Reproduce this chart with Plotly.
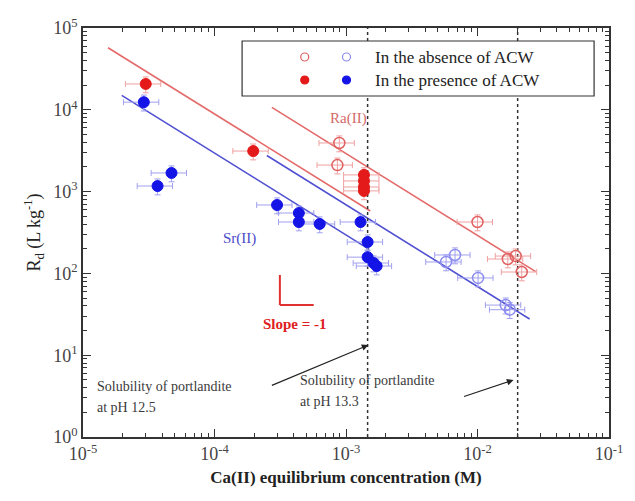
import plotly.graph_objects as go

# ---------------- data ----------------
ra_pres_x = [3.0e-5, 1.97e-4, 1.37e-3, 1.37e-3, 1.37e-3, 1.37e-3]
ra_pres_y = [20700, 3130, 1600, 1350, 1140, 1020]

ra_abs_x = [8.9e-4, 8.6e-4, 1.0e-2, 1.70e-2, 1.95e-2, 2.17e-2]
ra_abs_y = [3930, 2110, 425, 150, 163, 104]

sr_pres_x = [2.9e-5, 3.69e-5, 4.71e-5, 2.99e-4, 4.38e-4, 4.38e-4, 6.31e-4,
             1.29e-3, 1.46e-3, 1.46e-3, 1.62e-3, 1.71e-3]
sr_pres_y = [12400, 1170, 1690, 686, 547, 425, 402,
             425, 242, 158, 134, 123]

sr_abs_x = [5.77e-3, 6.75e-3, 1.01e-2, 1.64e-2, 1.76e-2]
sr_abs_y = [138, 168, 88, 41, 36]

ra_fit1_x = [1.55e-5, 1.53e-3]
ra_fit1_y = [5.74e4, 5.8e2]
ra_fit2_x = [2.73e-4, 2.77e-2]
ra_fit2_y = [1.07e4, 1.05e2]
sr_fit1_x = [1.97e-5, 1.5e-3]
sr_fit1_y = [1.5e4, 1.97e2]
sr_fit2_x = [2.5e-4, 2.49e-2]
sr_fit2_y = [2.76e3, 2.77e1]

portlandite_x = [1.46e-3, 2.02e-2]   # solubility of portlandite at pH 12.5 / 13.3

x_tickvals = [1e-5, 1e-4, 1e-3, 1e-2, 1e-1]
x_ticktext = ["10<sup>-5</sup>", "10<sup>-4</sup>", "10<sup>-3</sup>", "10<sup>-2</sup>", "10<sup>-1</sup>"]
y_tickvals = [1, 10, 100, 1e3, 1e4, 1e5]
y_ticktext = ["10<sup>0</sup>", "10<sup>1</sup>", "10<sup>2</sup>", "10<sup>3</sup>", "10<sup>4</sup>", "10<sup>5</sup>"]

# ---------------- styling ----------------
FONT = "Liberation Serif"
RED = "#e41a1a"
RED_LINE = "#e46a6a"
RED_OPEN = "#e06060"
RED_ERR = "#f0a0a0"
BLUE = "#1414e6"
BLUE_LINE = "#5050d2"
BLUE_OPEN = "#8c8cf0"
BLUE_ERR = "#a0a0f0"

fig = go.Figure()

# fit lines
for xs, ys, c in [(ra_fit1_x, ra_fit1_y, RED_LINE), (ra_fit2_x, ra_fit2_y, RED_LINE),
                  (sr_fit1_x, sr_fit1_y, BLUE_LINE), (sr_fit2_x, sr_fit2_y, BLUE_LINE)]:
    fig.add_trace(go.Scatter(x=xs, y=ys, mode="lines", line=dict(color=c, width=1.6),
                             showlegend=False, hoverinfo="skip"))

# portlandite solubility dashed lines
for xv in portlandite_x:
    fig.add_trace(go.Scatter(x=[xv, xv], y=[1, 1e5], mode="lines",
                             line=dict(color="#333333", width=1.5, dash="3px,3px"),
                             showlegend=False, hoverinfo="skip"))


def pts(xs, ys, filled, color, errc):
    marker = dict(size=11, color=color, line=dict(color=color, width=1)) if filled else \
        dict(size=11, color="rgba(255,255,255,0)", line=dict(color=color, width=1.5))
    return go.Scatter(
        x=xs, y=ys, mode="markers", marker=marker, showlegend=False,
        error_x=dict(type="percent", value=30, color=errc, thickness=1, width=3),
        error_y=dict(type="percent", value=22, color=errc, thickness=1, width=3),
    )


fig.add_trace(pts(sr_abs_x, sr_abs_y, False, BLUE_OPEN, BLUE_ERR))
fig.add_trace(pts(ra_abs_x, ra_abs_y, False, RED_OPEN, RED_ERR))
fig.add_trace(pts(sr_pres_x, sr_pres_y, True, BLUE, BLUE_ERR))
fig.add_trace(pts(ra_pres_x, ra_pres_y, True, RED, RED_ERR))


def fx(px):
    return (px - 83) / 529


def fy(py):
    return (437 - py) / 409


shapes = []
# slope = -1 marker
shapes.append(dict(type="line", xref="paper", yref="paper", x0=fx(281), x1=fx(281), y0=fy(275), y1=fy(305),
                   line=dict(color="#e03030", width=2), layer="above"))
shapes.append(dict(type="line", xref="paper", yref="paper", x0=fx(281), x1=fx(315), y0=fy(305), y1=fy(305),
                   line=dict(color="#e03030", width=2), layer="above"))
# legend box
shapes.append(dict(type="rect", xref="paper", yref="paper", x0=fx(243), x1=fx(597), y0=fy(96), y1=fy(41),
                   fillcolor="white", line=dict(color="#333333", width=1.2), layer="above"))
# legend symbols
for cx, cy, fill, col in [(306, 57, False, RED_OPEN), (348, 57, False, BLUE_OPEN),
                          (306, 80, True, RED), (348, 80, True, BLUE)]:
    shapes.append(dict(type="circle", xref="paper", yref="paper", xsizemode="pixel", ysizemode="pixel",
                       xanchor=fx(cx), yanchor=fy(cy), x0=-4, x1=4, y0=-4, y1=4,
                       fillcolor=col if fill else "white",
                       line=dict(color=col, width=1.2), layer="above"))

ann = []


def text(px, py, s, size=14, color="#333333", xanchor="center", bold=False):
    ann.append(dict(xref="paper", yref="paper", x=fx(px), y=fy(py), text=("<b>%s</b>" % s) if bold else s,
                    showarrow=False, xanchor=xanchor, yanchor="middle",
                    font=dict(family=FONT, size=size, color=color)))


text(375, 57, "In the absence of ACW", size=17, color="#222222", xanchor="left")
text(375, 80, "In the presence of ACW", size=17, color="#222222", xanchor="left")
text(350, 118, "Ra(II)", size=15, color="#d46a6a")
text(240, 238, "Sr(II)", size=15, color="#4a4ac8")
text(296, 324, "Slope = -1", size=15, color="#e02020", bold=True)
text(95, 386, "Solubility of portlandite", size=14, color="#3a3a3a", xanchor="left")
text(95, 407, "at pH 12.5", size=14, color="#3a3a3a", xanchor="left")
text(299, 380, "Solubility of portlandite", size=14, color="#3a3a3a", xanchor="left")
text(299, 401, "at pH 13.3", size=14, color="#3a3a3a", xanchor="left")

# arrows
for hx, hy, tx, ty in [(370, 345, 272, 386), (516, 380, 465, 397)]:
    ann.append(dict(xref="paper", yref="paper", x=fx(hx), y=fy(hy), ax=tx - hx, ay=ty - hy,
                    axref="pixel", ayref="pixel", text="", showarrow=True,
                    arrowhead=2, arrowsize=1.2, arrowwidth=1.1, arrowcolor="#222222"))


def minor_vals(lo, hi):
    out = []
    for e in range(lo, hi):
        for m in range(2, 10):
            out.append(m * 10 ** e)
    return out


axis_common = dict(type="log", showline=True, linecolor="#333333", linewidth=1.5, mirror="allticks",
                   ticks="inside", ticklen=8, tickwidth=1.2, tickcolor="#333333",
                   showgrid=False, zeroline=False,
                   tickfont=dict(family=FONT, size=18, color="#444444"))

fig.update_layout(
    width=635, height=501,
    margin=dict(l=83, r=23, t=28, b=64),
    paper_bgcolor="white", plot_bgcolor="white",
    showlegend=False,
    xaxis=dict(**axis_common, range=[-5, -1], tickmode="array", tickvals=x_tickvals, ticktext=x_ticktext,
               minor=dict(tickmode="array", tickvals=minor_vals(-5, -1), ticks="inside", ticklen=4,
                          tickwidth=1, tickcolor="#333333", showgrid=False),
               title=dict(text="<b>Ca(II) equilibrium concentration (M)</b>",
                          font=dict(family=FONT, size=17, color="#222222"), standoff=8)),
    yaxis=dict(**axis_common, range=[0, 5], tickmode="array", tickvals=y_tickvals, ticktext=y_ticktext,
               minor=dict(tickmode="array", tickvals=minor_vals(0, 5), ticks="inside", ticklen=4,
                          tickwidth=1, tickcolor="#333333", showgrid=False),
               title=dict(text="R<sub>d</sub> (L kg<sup>-1</sup>)",
                          font=dict(family=FONT, size=18, color="#222222"), standoff=8)),
    shapes=shapes,
    annotations=ann,
)

fig.write_html("out.html")
